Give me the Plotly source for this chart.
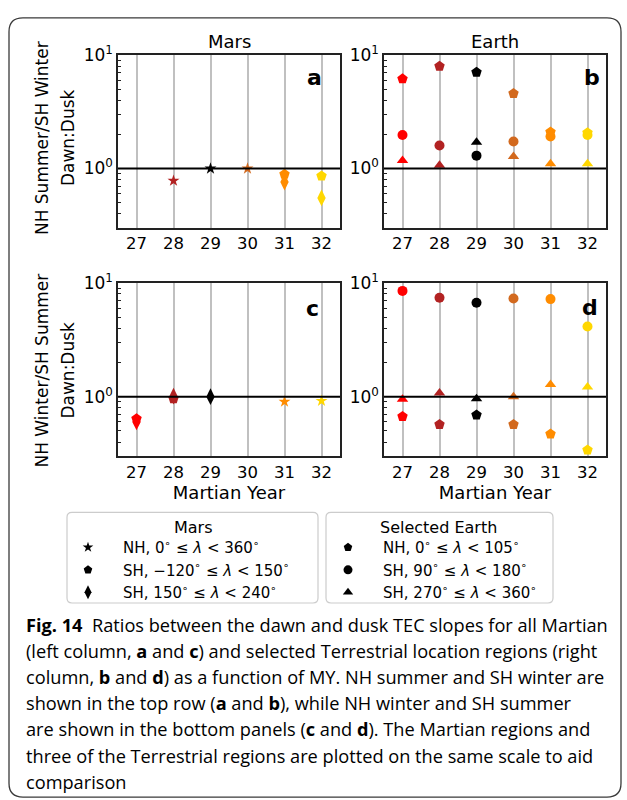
import plotly.graph_objects as go

# ---------------- data ----------------
YEARS = [27, 28, 29, 30, 31, 32]
YEAR_COLORS = ["#ff0000", "#b22222", "#000000", "#d2691e", "#ff8c00", "#ffd700"]

# Mars, NH summer / SH winter (panel a)
mars_a_nh = [None, 0.78, 1.00, 1.00, None, None]
mars_a_sh1 = [None, None, None, None, 0.89, 0.86]
mars_a_sh2 = [None, None, None, None, 0.76, 0.55]
# Mars, NH winter / SH summer (panel c)
mars_c_nh = [None, None, None, None, 0.905, 0.92]
mars_c_sh1 = [0.64, 0.96, None, None, None, None]
mars_c_sh2 = [0.60, 1.01, 1.00, None, None, None]
# Earth, NH summer / SH winter (panel b)
earth_b_nh = [6.2, 8.0, 7.1, 4.6, 2.1, 2.07]
earth_b_sh1 = [1.98, 1.60, 1.30, 1.73, 1.92, 1.98]
earth_b_sh2 = [1.18, 1.07, 1.71, 1.28, 1.10, 1.10]
# Earth, NH winter / SH summer (panel d)
earth_d_nh = [0.67, 0.57, 0.69, 0.57, 0.47, 0.34]
earth_d_sh1 = [8.5, 7.4, 6.7, 7.3, 7.2, 4.14]
earth_d_sh2 = [0.95, 1.08, 0.96, 1.00, 1.28, 1.22]

REF_RATIO = 1.0
Y_TICKVALS = [1, 10]
Y_TICKTEXT = ["10<sup>0</sup>", "10<sup>1</sup>"]
Y_MINOR = [0.3, 0.4, 0.5, 0.6, 0.7, 0.8, 0.9, 2, 3, 4, 5, 6, 7, 8, 9]

MARS_LABELS = ["NH, 0<sup>∘</sup> ≤ <i>λ</i> &lt; 360<sup>∘</sup>",
               "SH, −120<sup>∘</sup> ≤ <i>λ</i> &lt; 150<sup>∘</sup>",
               "SH, 150<sup>∘</sup> ≤ <i>λ</i> &lt; 240<sup>∘</sup>"]
EARTH_LABELS = ["NH, 0<sup>∘</sup> ≤ <i>λ</i> &lt; 105<sup>∘</sup>",
                "SH, 90<sup>∘</sup> ≤ <i>λ</i> &lt; 180<sup>∘</sup>",
                "SH, 270<sup>∘</sup> ≤ <i>λ</i> &lt; 360<sup>∘</sup>"]
MARS_SYMBOLS = ["star", "pentagon", "diamond-tall"]
EARTH_SYMBOLS = ["pentagon", "circle", "triangle-up"]

CAPTION_LINES = [
    "<b>Fig. 14</b>  Ratios between the dawn and dusk TEC slopes for all Martian",
    "(left column, <b>a</b> and <b>c</b>) and selected Terrestrial location regions (right",
    "column, <b>b</b> and <b>d</b>) as a function of MY. NH summer and SH winter are",
    "shown in the top row (<b>a</b> and <b>b</b>), while NH winter and SH summer",
    "are shown in the bottom panels (<b>c</b> and <b>d</b>). The Martian regions and",
    "three of the Terrestrial regions are plotted on the same scale to aid",
    "comparison",
]

# ---------------- layout helpers ----------------
W, H = 627, 800
def px(x):
    return x / W
def py(y):
    return 1 - y / H

FONT = "DejaVu Sans"
CAP_FONT = "Open Sans"

fig = go.Figure()

panels = [
    ("", [mars_a_nh, mars_a_sh1, mars_a_sh2], MARS_SYMBOLS, [9, 11, 12]),
    ("2", [earth_b_nh, earth_b_sh1, earth_b_sh2], EARTH_SYMBOLS, [11, 10, 10]),
    ("3", [mars_c_nh, mars_c_sh1, mars_c_sh2], MARS_SYMBOLS, [9, 11, 12]),
    ("4", [earth_d_nh, earth_d_sh1, earth_d_sh2], EARTH_SYMBOLS, [11, 10, 10]),
]

for suf, series, syms, sizes in panels:
    for vals, sym, sz in zip(series, syms, sizes):
        fig.add_trace(go.Scatter(
            x=YEARS, y=vals, mode="markers",
            marker=dict(symbol=sym, size=sz, color=YEAR_COLORS, line=dict(width=0)),
            xaxis="x" + suf, yaxis="y" + suf, showlegend=False,
        ))

# legend-only traces (black symbols)
for lab, sym, sz in zip(MARS_LABELS, MARS_SYMBOLS, [8, 9, 10]):
    fig.add_trace(go.Scatter(x=[None], y=[None], mode="markers", name=lab,
                             marker=dict(symbol=sym, size=sz, color="black"),
                             legend="legend"))
for lab, sym, sz in zip(EARTH_LABELS, EARTH_SYMBOLS, [9, 9, 9]):
    fig.add_trace(go.Scatter(x=[None], y=[None], mode="markers", name=lab,
                             marker=dict(symbol=sym, size=sz, color="black"),
                             legend="legend2"))

xdom_l = [px(118), px(340)]
xdom_r = [px(384), px(606)]
ydom_t = [py(219), py(44)]
ydom_b = [py(451), py(275)]

def xax(dom, anchor, title=None):
    d = dict(domain=dom, anchor=anchor, range=[26.5, 32.5],
             tickvals=YEARS, ticktext=[str(v) for v in YEARS],
             showgrid=True, gridcolor="#c0c0c0", gridwidth=1.5,
             showline=True, linecolor="#222", linewidth=1.5, mirror=True,
             ticks="", zeroline=False,
             tickfont=dict(family=FONT, size=16.5, color="black"))
    if title:
        d["title"] = dict(text=title, font=dict(family=FONT, size=18, color="black"), standoff=4)
    return d

def yax(dom, anchor):
    return dict(domain=dom, anchor=anchor, type="log", range=[-0.5229, 1.0],
                tickvals=Y_TICKVALS, ticktext=Y_TICKTEXT, showgrid=False,
                showline=True, linecolor="#222", linewidth=1.5, mirror=True,
                ticks="inside", ticklen=5, tickcolor="#222", zeroline=False,
                tickfont=dict(family=FONT, size=17, color="black"),
                minor=dict(tickvals=Y_MINOR, ticks="inside", ticklen=3,
                           tickcolor="#222", showgrid=False))

fig.update_layout(
    width=W, height=H, margin=dict(l=0, r=0, t=0, b=0),
    paper_bgcolor="white", plot_bgcolor="white",
    xaxis=xax(xdom_l, "y"), yaxis=yax(ydom_t, "x"),
    xaxis2=xax(xdom_r, "y2"), yaxis2=yax(ydom_t, "x2"),
    xaxis3=xax(xdom_l, "y3", "Martian Year"), yaxis3=yax(ydom_b, "x3"),
    xaxis4=xax(xdom_r, "y4", "Martian Year"), yaxis4=yax(ydom_b, "x4"),
    legend=dict(x=px(53), y=py(527), xanchor="left", yanchor="top",
                bgcolor="rgba(0,0,0,0)", borderwidth=0,
                font=dict(family=FONT, size=15, color="black"),
                tracegroupgap=0, itemsizing="trace", itemwidth=60),
    legend2=dict(x=px(313), y=py(527), xanchor="left", yanchor="top",
                 bgcolor="rgba(0,0,0,0)", borderwidth=0,
                 font=dict(family=FONT, size=15, color="black"),
                 tracegroupgap=0, itemsizing="trace", itemwidth=60),
)

shapes = []
# reference line at ratio = 1
for suf in ["", "2", "3", "4"]:
    shapes.append(dict(type="line", xref=("x" + suf + " domain"), yref=("y" + suf),
                       x0=0, x1=1, y0=REF_RATIO, y1=REF_RATIO,
                       line=dict(color="black", width=2), layer="above"))

def rrect(x0, y0, x1, y1, r):
    X0, X1 = px(x0), px(x1)
    Y0, Y1 = py(y0), py(y1)
    rx, ry = r / W, r / H
    return (f"M{X0+rx},{Y0} L{X1-rx},{Y0} Q{X1},{Y0} {X1},{Y0-ry} "
            f"L{X1},{Y1+ry} Q{X1},{Y1} {X1-rx},{Y1} L{X0+rx},{Y1} "
            f"Q{X0},{Y1} {X0},{Y1+ry} L{X0},{Y0-ry} Q{X0},{Y0} {X0+rx},{Y0} Z")

shapes.append(dict(type="path", xref="paper", yref="paper", path=rrect(9, 6, 621, 797, 14),
                   line=dict(color="#3a3a3a", width=1.3), layer="below"))
shapes.append(dict(type="path", xref="paper", yref="paper", path=rrect(67, 508, 318, 600, 5),
                   line=dict(color="#cccccc", width=1.2), layer="below"))
shapes.append(dict(type="path", xref="paper", yref="paper", path=rrect(326, 508, 553, 600, 5),
                   line=dict(color="#cccccc", width=1.2), layer="below"))
fig.update_layout(shapes=shapes)

ann = []
def text(x, y, s, size, family=FONT, xanchor="center", angle=0, bold=False):
    ann.append(dict(x=px(x), y=py(y), xref="paper", yref="paper", text=(f"<b>{s}</b>" if bold else s),
                    showarrow=False, xanchor=xanchor, yanchor="middle", textangle=angle,
                    font=dict(family=family, size=size, color="black")))

text(229, 30, "Mars", 18)
text(495, 30, "Earth", 18)
text(42, 128, "NH Summer/SH Winter", 17, angle=-90)
text(68, 128, "Dawn:Dusk", 17, angle=-90)
text(42, 364, "NH Winter/SH Summer", 17, angle=-90)
text(68, 364, "Dawn:Dusk", 17, angle=-90)
text(314, 66, "a", 22, bold=True)
text(592, 66, "b", 22, bold=True)
text(312, 301, "c", 22, bold=True)
text(590, 300, "d", 22, bold=True)
text(193, 523, "Mars", 16)
text(438, 523, "Selected Earth", 16)

for i, line in enumerate(CAPTION_LINES):
    text(24, 622 + i * 26.6, line, 18.2, family=CAP_FONT, xanchor="left")

fig.update_layout(annotations=ann)
fig.write_html("out.html", config={"displayModeBar": False},
               post_script="document.body.style.margin='0';document.body.style.overflow='hidden';")
